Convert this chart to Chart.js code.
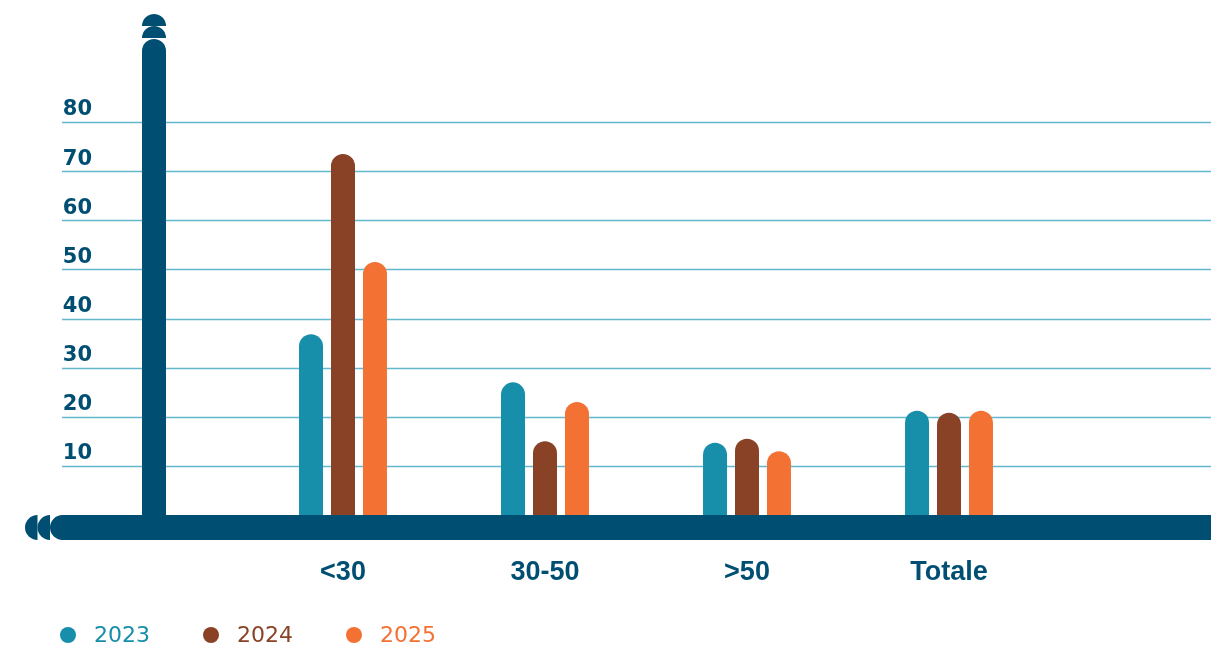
<!DOCTYPE html>
<html>
<head>
<meta charset="utf-8">
<script src="https://cdn.jsdelivr.net/npm/chart.js@4"></script>
<style>
  html, body { margin: 0; padding: 0; background: #fff; }
  #wrap { position: relative; width: 1211px; height: 645px; }
  #legend { position: absolute; left: 60px; top: 622px; display: flex; }
  .item { display: flex; align-items: center; width: 143px; height: 26px;
          font: 22px/26px 'DejaVu Sans', sans-serif; }
  .dot { width: 16px; height: 16px; border-radius: 50%; margin-right: 18px; }
</style>
</head>
<body>
<div id="wrap">
  <canvas id="ageChart" width="1211" height="645"></canvas>
  <div id="legend"></div>
</div>
<script>
const categories = ['<30', '30-50', '>50', 'Totale'];
const years = ['2023', '2024', '2025'];
const values2023 = [36.8, 27, 14.7, 21.2];
const values2024 = [73.5, 15, 15.5, 20.8];
const values2025 = [51.5, 23, 13, 21.2];
const yTicks = [10, 20, 30, 40, 50, 60, 70, 80];

const colors = ['#178eaa', '#8a4226', '#f37233'];
const navy = '#004f73';
const gridColor = '#62b8cc';

// gridlines behind the bars, thick rounded axes on top
const axisDecor = {
  id: 'axisDecor',
  beforeDatasetsDraw(chart) {
    const {ctx} = chart;
    const y = chart.scales.y;
    ctx.save();
    ctx.strokeStyle = gridColor;
    ctx.lineWidth = 1.5;
    yTicks.forEach(v => {
      const py = Math.round(y.getPixelForValue(v)) + 0.5;
      ctx.beginPath();
      ctx.moveTo(62, py);
      ctx.lineTo(chart.width, py);
      ctx.stroke();
    });
    ctx.restore();
  },
  afterDatasetsDraw(chart) {
    const {ctx} = chart;
    const base = chart.scales.y.getPixelForValue(0);
    const cx = 154, r = 12;
    ctx.save();
    ctx.fillStyle = navy;
    // vertical bar with stacked caps
    ctx.beginPath();
    ctx.arc(cx, 51, r, Math.PI, 0);
    ctx.lineTo(cx + r, base + 12);
    ctx.lineTo(cx - r, base + 12);
    ctx.closePath();
    ctx.fill();
    [38, 26].forEach(cy => {
      ctx.beginPath();
      ctx.arc(cx, cy, r, Math.PI, 0);
      ctx.closePath();
      ctx.fill();
    });
    // horizontal bar with stacked caps
    const hy = base + 12.5, hr = 12.5;
    ctx.fillRect(62, base, chart.width - 62, 25);
    [62.5, 50, 37.5].forEach(hx => {
      ctx.beginPath();
      ctx.arc(hx, hy, hr, Math.PI / 2, Math.PI * 1.5);
      ctx.closePath();
      ctx.fill();
    });
    ctx.restore();
  }
};

const ctx = document.getElementById('ageChart').getContext('2d');

const data = {
  labels: categories,
  datasets: [
    { label: years[0], data: values2023, backgroundColor: colors[0] },
    { label: years[1], data: values2024, backgroundColor: colors[1] },
    { label: years[2], data: values2025, backgroundColor: colors[2] },
  ]
};

const config = {
  type: 'bar',
  data: data,
  options: {
    responsive: false,
    animation: false,
    layout: { padding: { top: 122, left: 0, right: 161, bottom: 0 } },
    datasets: {
      bar: {
        borderRadius: 12,
        borderSkipped: 'start',
        categoryPercentage: 0.475,
        barPercentage: 0.75,
      }
    },
    plugins: {
      tooltip: { enabled: false },
      legend: { display: false },
    },
    scales: {
      x: {
        grid: { display: false, drawTicks: true, tickLength: 41 },
        border: { display: false },
        afterFit: scale => { scale.height = 130; },
        ticks: {
          padding: 0,
          color: navy,
          font: { family: 'Liberation Sans', size: 27, weight: 'bold' },
        },
      },
      y: {
        min: 0,
        max: 80,
        grid: { display: false, drawTicks: true, tickLength: 150 },
        border: { display: false },
        afterFit: scale => { scale.width = 242; },
        afterBuildTicks: scale => { scale.ticks = yTicks.map(v => ({ value: v })); },
        ticks: {
          padding: 0,
          labelOffset: -12,
          color: navy,
          font: { family: 'DejaVu Sans', size: 21, weight: 'bold' },
        },
      },
    },
  },
  plugins: [axisDecor],
};

const ageChart = new Chart(ctx, config);

// legend below the chart
const legendEl = document.getElementById('legend');
years.forEach((y, i) => {
  const item = document.createElement('div');
  item.className = 'item';
  item.style.color = colors[i];
  const dot = document.createElement('span');
  dot.className = 'dot';
  dot.style.background = colors[i];
  item.appendChild(dot);
  item.appendChild(document.createTextNode(y));
  legendEl.appendChild(item);
});
</script>
</body>
</html>
